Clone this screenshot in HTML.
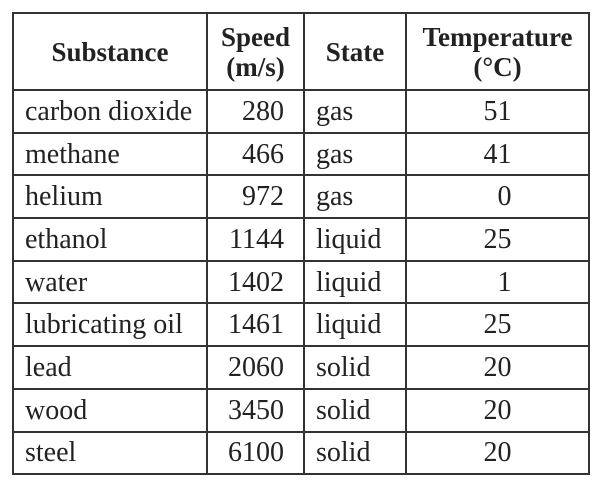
<!DOCTYPE html>
<html><head><meta charset="utf-8"><style>
body{margin:0;width:602px;height:487px;background:#fff;overflow:hidden}
table{position:absolute;left:12px;top:12px;border-collapse:collapse;font-family:"Liberation Serif",serif;font-size:28px;color:#222;table-layout:fixed;width:578px}
td,th{border:2px solid #333;padding:0 0 0 11px;height:40.7px;line-height:27px;white-space:nowrap;overflow:hidden}
th{font-weight:bold;height:75px;text-align:center;padding:0;line-height:30px;font-size:27px}
.r{text-align:right;padding:0 19px 0 0}.c{text-align:center;padding:0}.l{text-align:left}
</style></head><body>
<table>
<colgroup><col style="width:194px"><col style="width:97px"><col style="width:102px"><col style="width:183px"></colgroup>
<tr><th>Substance</th><th>Speed<br>(m/s)</th><th>State</th><th>Temperature<br>(°C)</th></tr>
<tr><td class="l">carbon dioxide</td><td class="r">280</td><td class="l">gas</td><td class="c">51</td></tr>
<tr><td class="l">methane</td><td class="r">466</td><td class="l">gas</td><td class="c">41</td></tr>
<tr><td class="l">helium</td><td class="r">972</td><td class="l">gas</td><td class="c">&nbsp;&nbsp;0</td></tr>
<tr><td class="l">ethanol</td><td class="r">1144</td><td class="l">liquid</td><td class="c">25</td></tr>
<tr><td class="l">water</td><td class="r">1402</td><td class="l">liquid</td><td class="c">&nbsp;&nbsp;1</td></tr>
<tr><td class="l">lubricating oil</td><td class="r">1461</td><td class="l">liquid</td><td class="c">25</td></tr>
<tr><td class="l">lead</td><td class="r">2060</td><td class="l">solid</td><td class="c">20</td></tr>
<tr><td class="l">wood</td><td class="r">3450</td><td class="l">solid</td><td class="c">20</td></tr>
<tr><td class="l">steel</td><td class="r">6100</td><td class="l">solid</td><td class="c">20</td></tr>
</table>
</body></html>
